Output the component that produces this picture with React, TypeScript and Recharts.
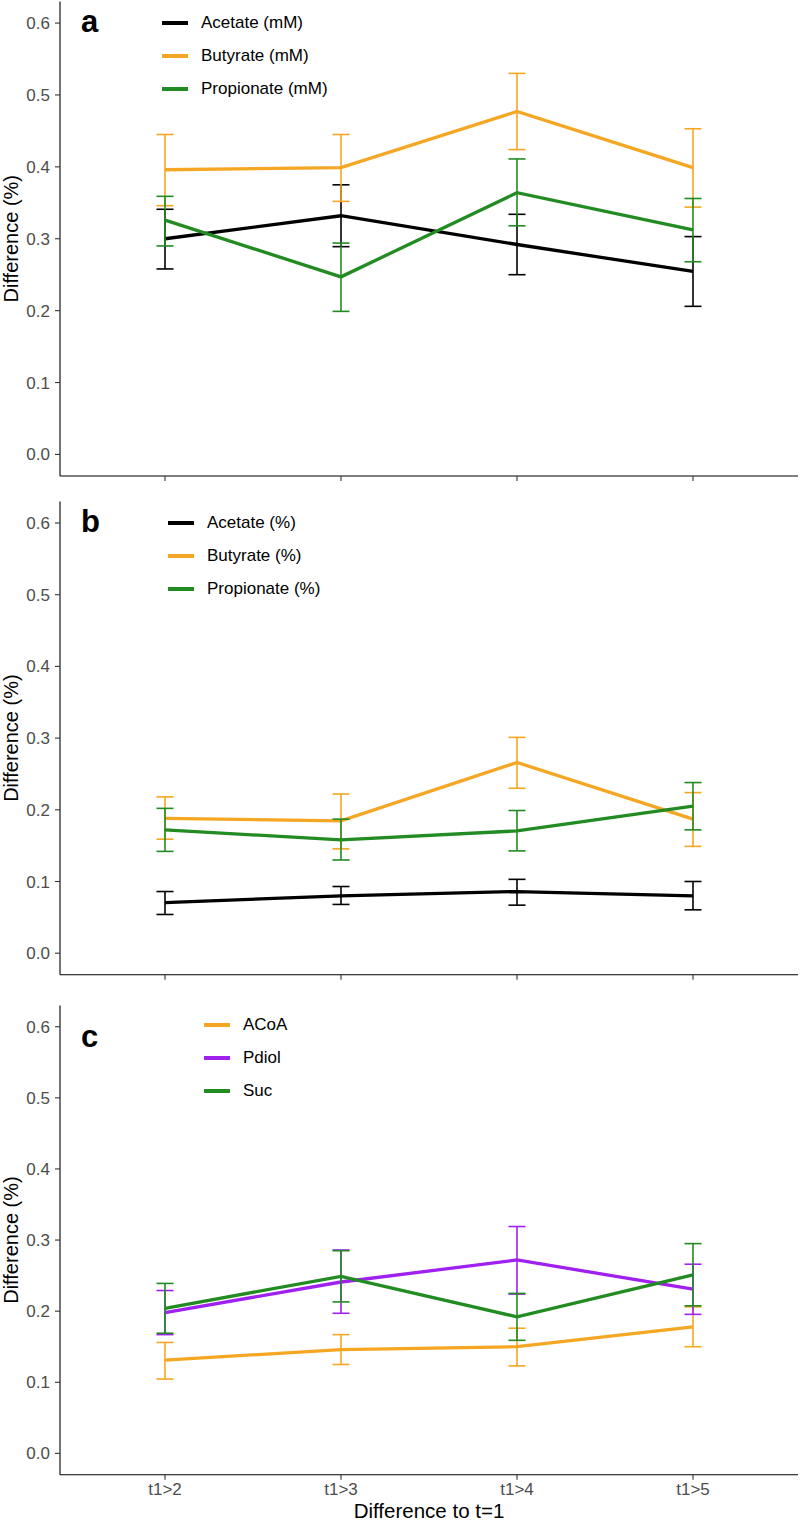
import React from 'react';
import { LineChart, Line, XAxis, YAxis, ErrorBar, Legend } from 'recharts';

const FONT = '"Liberation Sans", Arial, Helvetica, sans-serif';
const BLACK = '#000000';
const ORANGE = '#F5A623';
const GREEN = '#228B22';
const PURPLE = '#A020F0';

const categories = ['t1>2', 't1>3', 't1>4', 't1>5'];
const yTicks = [0, 0.1, 0.2, 0.3, 0.4, 0.5, 0.6];

// panel a: mM
const acetateMM = [0.3, 0.332, 0.292, 0.2545];
const acetateMMLow = [0.258, 0.289, 0.25, 0.206];
const acetateMMHigh = [0.341, 0.375, 0.334, 0.303];
const butyrateMM = [0.396, 0.399, 0.477, 0.399];
const butyrateMMLow = [0.346, 0.352, 0.424, 0.344];
const butyrateMMHigh = [0.445, 0.445, 0.53, 0.453];
const propionateMM = [0.326, 0.247, 0.364, 0.3125];
const propionateMMLow = [0.29, 0.199, 0.318, 0.268];
const propionateMMHigh = [0.359, 0.294, 0.411, 0.356];

// panel b: %
const acetatePct = [0.0706, 0.08, 0.086, 0.08];
const acetatePctLow = [0.054, 0.068, 0.067, 0.0605];
const acetatePctHigh = [0.086, 0.093, 0.103, 0.1];
const butyratePct = [0.188, 0.1845, 0.266, 0.187];
const butyratePctLow = [0.159, 0.1455, 0.23, 0.149];
const butyratePctHigh = [0.218, 0.222, 0.301, 0.224];
const propionatePct = [0.172, 0.158, 0.1706, 0.205];
const propionatePctLow = [0.142, 0.13, 0.1427, 0.172];
const propionatePctHigh = [0.202, 0.187, 0.199, 0.238];

// panel c
const acoa = [0.131, 0.146, 0.15, 0.178];
const acoaLow = [0.1045, 0.125, 0.123, 0.15];
const acoaHigh = [0.156, 0.167, 0.176, 0.206];
const pdiol = [0.198, 0.241, 0.272, 0.231];
const pdiolLow = [0.167, 0.197, 0.224, 0.1955];
const pdiolHigh = [0.229, 0.286, 0.319, 0.266];
const suc = [0.204, 0.249, 0.192, 0.251];
const sucLow = [0.169, 0.213, 0.159, 0.2075];
const sucHigh = [0.239, 0.285, 0.225, 0.295];

type Series = { name: string; color: string; mean: number[]; low: number[]; high: number[] };

const seriesA: Series[] = [
  { name: 'Acetate (mM)', color: BLACK, mean: acetateMM, low: acetateMMLow, high: acetateMMHigh },
  { name: 'Butyrate (mM)', color: ORANGE, mean: butyrateMM, low: butyrateMMLow, high: butyrateMMHigh },
  { name: 'Propionate (mM)', color: GREEN, mean: propionateMM, low: propionateMMLow, high: propionateMMHigh },
];
const seriesB: Series[] = [
  { name: 'Acetate (%)', color: BLACK, mean: acetatePct, low: acetatePctLow, high: acetatePctHigh },
  { name: 'Butyrate (%)', color: ORANGE, mean: butyratePct, low: butyratePctLow, high: butyratePctHigh },
  { name: 'Propionate (%)', color: GREEN, mean: propionatePct, low: propionatePctLow, high: propionatePctHigh },
];
const seriesC: Series[] = [
  { name: 'ACoA', color: ORANGE, mean: acoa, low: acoaLow, high: acoaHigh },
  { name: 'Pdiol', color: PURPLE, mean: pdiol, low: pdiolLow, high: pdiolHigh },
  { name: 'Suc', color: GREEN, mean: suc, low: sucLow, high: sucHigh },
];

const buildRows = (series: Series[]) =>
  categories.map((cat, i) => {
    const row: Record<string, any> = { cat };
    series.forEach((s, k) => {
      row[`v${k}`] = s.mean[i];
      row[`e${k}`] = [s.mean[i] - s.low[i], s.high[i] - s.mean[i]];
    });
    return row;
  });

const LegendBox = ({ payload }: any) => (
  <div style={{ fontFamily: FONT }}>
    {(payload || []).map((p: any) => (
      <div key={p.value} style={{ display: 'flex', alignItems: 'center', height: 33 }}>
        <div style={{ width: 26, height: 3.3, background: p.color }} />
        <span style={{ marginLeft: 13, fontSize: 17, color: '#000' }}>{p.value}</span>
      </div>
    ))}
  </div>
);

interface PanelProps {
  series: Series[];
  letter: string;
  top: number;
  height: number;
  marginTop: number;
  xAxisHeight: number;
  showXLabels: boolean;
  legendLeft: number;
  legendTop: number;
  letterTop: number;
}

const Panel: React.FC<PanelProps> = ({
  series, letter, top, height, marginTop, xAxisHeight, showXLabels, legendLeft, legendTop, letterTop,
}) => {
  const rows = buildRows(series);
  return (
    <div style={{ position: 'absolute', left: 0, top, width: 800, height }}>
      <LineChart width={800} height={height} data={rows} margin={{ top: marginTop, right: 2, bottom: 0, left: 0 }}>
        <XAxis
          dataKey="cat"
          padding={{ left: 105, right: 105 }}
          height={xAxisHeight}
          axisLine={{ stroke: '#000', strokeWidth: 1.1 }}
          tickLine={{ stroke: '#333', strokeWidth: 1.1 }}
          tickSize={5}
          tickMargin={3}
          tick={{ fill: '#4d4d4d', fontSize: 17, fontFamily: FONT }}
          tickFormatter={(v: string) => (showXLabels ? v : '')}
          label={
            showXLabels
              ? (props: any) => {
                  const vb = props.viewBox || { x: 60, y: 474.7, width: 738 };
                  return (
                    <text x={vb.x + vb.width / 2} y={vb.y + 43.5} textAnchor="middle" fontSize={20.5} fontFamily={FONT} fill="#000">
                      Difference to t=1
                    </text>
                  );
                }
              : undefined
          }
        />
        <YAxis
          type="number"
          domain={[-0.03, 0.63]}
          ticks={yTicks}
          width={60}
          axisLine={{ stroke: '#000', strokeWidth: 1.1 }}
          tickLine={{ stroke: '#333', strokeWidth: 1.1 }}
          tickSize={5}
          tickMargin={5}
          tick={{ fill: '#4d4d4d', fontSize: 17, fontFamily: FONT }}
          tickFormatter={(v: number) => v.toFixed(1)}
          label={(props: any) => {
            const vb = props.viewBox || { y: marginTop, height: height - marginTop - xAxisHeight };
            const cy = vb.y + vb.height / 2;
            return (
              <text x={18} y={cy} transform={`rotate(-90, 18, ${cy})`} textAnchor="middle" fontSize={20} fontFamily={FONT} fill="#000">
                Difference (%)
              </text>
            );
          }}
        />
        <Legend
          layout="horizontal"
          verticalAlign="middle"
          align="center"
          wrapperStyle={{ left: legendLeft, top: legendTop, width: 'auto', height: 'auto' }}
          content={<LegendBox />}
        />
        {series.map((s, k) => (
          <Line
            key={s.name}
            name={s.name}
            type="linear"
            dataKey={`v${k}`}
            stroke={s.color}
            strokeWidth={3.3}
            dot={false}
            activeDot={false}
            isAnimationActive={false}
          >
            <ErrorBar dataKey={`e${k}`} width={8.5} strokeWidth={1.6} stroke={s.color} direction="y" isAnimationActive={false} />
          </Line>
        ))}
      </LineChart>
      <div
        style={{
          position: 'absolute', left: 81, top: letterTop, fontFamily: FONT, fontWeight: 'bold',
          fontSize: 31, lineHeight: '31px', color: '#000',
        }}
      >
        {letter}
      </div>
    </div>
  );
};

export default function App() {
  return (
    <div style={{ position: 'absolute', left: 0, top: 0, width: 800, height: 1525, background: '#fff', fontFamily: FONT }}>
      <Panel series={seriesA} letter="a" top={0} height={500} marginTop={1.5} xAxisHeight={24}
        showXLabels={false} legendLeft={162} legendTop={6.5} letterTop={6} />
      <Panel series={seriesB} letter="b" top={500} height={500} marginTop={1.5} xAxisHeight={25.3}
        showXLabels={false} legendLeft={168} legendTop={6.5} letterTop={6} />
      <Panel series={seriesC} letter="c" top={1000} height={525} marginTop={5.4} xAxisHeight={50.3}
        showXLabels={true} legendLeft={204} legendTop={8.5} letterTop={21} />
    </div>
  );
}
